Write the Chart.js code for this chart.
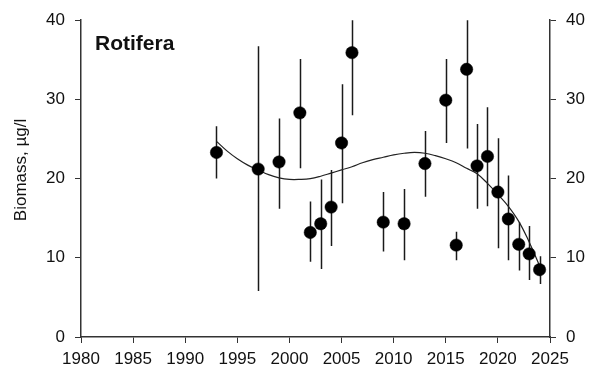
<!DOCTYPE html>
<html>
<head>
<meta charset="utf-8">
<script src="https://cdn.jsdelivr.net/npm/chart.js@4"></script>
<style>
    html, body { margin: 0; padding: 0; background: #fff; }
    #wrap { width: 601px; height: 369px; }
</style>
</head>
<body>
<div id="wrap"><canvas id="biomass-chart" width="601" height="369"></canvas></div>
<script>
// Rotifera biomass, yearly means with error bars
const years = [1993, 1997, 1999, 2001, 2002, 2003, 2004, 2005, 2006, 2009, 2011,
               2013, 2015, 2016, 2017, 2018, 2019, 2020, 2021, 2022, 2023, 2024];
const biomass = [23.3, 21.2, 22.1, 28.3, 13.2, 14.3, 16.4, 24.5, 35.9, 14.5, 14.3,
                 21.9, 29.9, 11.6, 33.8, 21.6, 22.8, 18.3, 14.9, 11.7, 10.5, 8.5];
const errLow = [20.0, 5.8, 16.2, 21.3, 9.5, 8.6, 11.5, 16.9, 28.0, 10.8, 9.7,
                17.7, 24.5, 9.7, 23.8, 16.2, 16.5, 11.2, 9.7, 8.4, 7.2, 6.7];
const errHigh = [26.6, 36.7, 27.6, 35.1, 17.1, 19.9, 21.1, 31.9, 41.0, 18.3, 18.7,
                 26.0, 35.1, 13.3, 41.0, 26.9, 29.0, 25.1, 20.4, 14.5, 14.0, 10.2];

// trend curve
const trendYears = [1993, 1994, 1995, 1996, 1997, 1998, 1999, 2000, 2001, 2002, 2003, 2004,
                    2005, 2006, 2007, 2008, 2009, 2010, 2011, 2012, 2013, 2014, 2015, 2016,
                    2017, 2018, 2019, 2020, 2021, 2022, 2023, 2024];
const trendValues = [24.7, 23.5, 22.5, 21.7, 21.1, 20.5, 20.1, 19.9, 19.9, 20.0, 20.3, 20.7,
                     21.1, 21.5, 22.0, 22.4, 22.7, 23.0, 23.2, 23.3, 23.2, 22.9, 22.5, 22.0,
                     21.3, 20.6, 19.4, 18.0, 16.5, 14.6, 12.0, 9.0];

const xTicks = [1980, 1985, 1990, 1995, 2000, 2005, 2010, 2015, 2020, 2025];
const yTicks = [0, 10, 20, 30, 40];

const FONT = "'Liberation Sans', Arial, sans-serif";
const INK = '#111';
const AXIS = '#333';

// vertical error bars, drawn through the chart's own scales
const errorBars = {
    id: 'errorBars',
    beforeDatasetsDraw(chart) {
        const { ctx, chartArea, scales: { x, y } } = chart;
        ctx.save();
        ctx.beginPath();
        ctx.rect(chartArea.left, chartArea.top, chartArea.right - chartArea.left, chartArea.bottom - chartArea.top);
        ctx.clip();
        ctx.strokeStyle = '#1a1a1a';
        ctx.lineWidth = 1.5;
        ctx.beginPath();
        years.forEach((yr, i) => {
            const px = Math.round(x.getPixelForValue(yr)) + 0.5;
            ctx.moveTo(px, y.getPixelForValue(errLow[i]));
            ctx.lineTo(px, y.getPixelForValue(errHigh[i]));
        });
        ctx.stroke();
        ctx.restore();
    }
};

// panel label and y axis title
const labels = {
    id: 'labels',
    afterDraw(chart) {
        const { ctx, chartArea } = chart;
        ctx.save();
        ctx.fillStyle = INK;
        ctx.font = "bold 21px " + FONT;
        ctx.textBaseline = 'alphabetic';
        ctx.fillText('Rotifera', chartArea.left + 14, chartArea.top + 30);

        ctx.font = "17px " + FONT;
        ctx.translate(21, 170);
        ctx.rotate(-Math.PI / 2);
        ctx.textAlign = 'center';
        ctx.textBaseline = 'middle';
        ctx.fillText('Biomass, µg/l', 0, 0);
        ctx.restore();
    }
};

const tickFont = { family: FONT, size: 17 };

const ctx = document.getElementById('biomass-chart').getContext('2d');
new Chart(ctx, {
    type: 'scatter',
    data: {
        datasets: [
            {
                label: 'Biomass',
                data: years.map((yr, i) => ({ x: yr, y: biomass[i] })),
                backgroundColor: '#000',
                borderColor: '#000',
                borderWidth: 0.5,
                pointRadius: 6.2,
                pointHoverRadius: 6.2,
                order: 1
            },
            {
                label: 'Trend',
                type: 'line',
                data: trendYears.map((yr, i) => ({ x: yr, y: trendValues[i] })),
                borderColor: '#222',
                borderWidth: 1.2,
                pointRadius: 0,
                fill: false,
                tension: 0.4,
                order: 2
            }
        ]
    },
    options: {
        responsive: false,
        animation: false,
        events: [],
        layout: { padding: { top: 17, left: 0, right: 0, bottom: 0 } },
        plugins: {
            legend: { display: false },
            tooltip: { enabled: false }
        },
        scales: {
            x: {
                type: 'linear',
                min: 1980,
                max: 2025,
                afterBuildTicks: (s) => { s.ticks = xTicks.map(v => ({ value: v })); },
                afterFit: (s) => { s.height = 32; },
                ticks: { color: INK, font: tickFont, padding: 6, maxRotation: 0, callback: (v) => String(v) },
                grid: { drawOnChartArea: false, tickLength: 6, color: AXIS },
                border: { color: AXIS, width: 1.5 }
            },
            y: {
                position: 'left',
                min: 0,
                max: 40,
                afterBuildTicks: (s) => { s.ticks = yTicks.map(v => ({ value: v })); },
                afterFit: (s) => { s.width = 81; },
                ticks: { color: INK, font: tickFont, padding: 10 },
                grid: { drawOnChartArea: false, tickLength: 6, color: AXIS },
                border: { color: AXIS, width: 1.5 }
            },
            y2: {
                position: 'right',
                min: 0,
                max: 40,
                afterBuildTicks: (s) => { s.ticks = yTicks.map(v => ({ value: v })); },
                afterFit: (s) => { s.width = 51; },
                ticks: { color: INK, font: tickFont, padding: 10 },
                grid: { drawOnChartArea: false, tickLength: 6, color: AXIS },
                border: { color: AXIS, width: 1.5 }
            }
        }
    },
    plugins: [errorBars, labels]
});
</script>
</body>
</html>
